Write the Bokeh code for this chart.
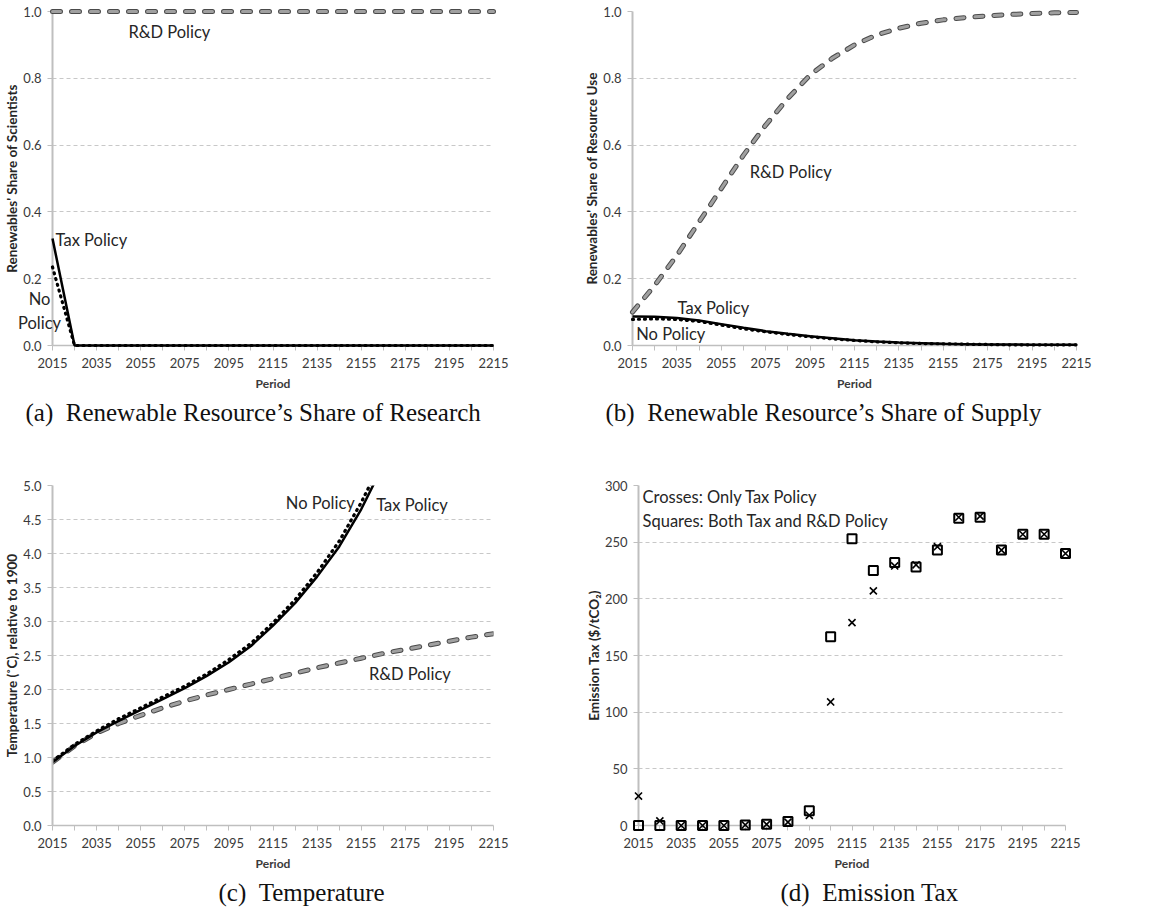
from bokeh.plotting import figure
from bokeh.layouts import column, row
from bokeh.models import Range1d, FixedTicker, Label, Title, NumeralTickFormatter
from bokeh.core.properties import value
from bokeh.embed import file_html
from bokeh.resources import INLINE

NAN = float("nan")

# ---------------- data ----------------
years = list(range(2015, 2216, 10))
label_years = list(range(2015, 2216, 20))
minor_years = list(range(2025, 2216, 20))

# (a) Renewables' share of scientists
a_rd = [1.0] * 21
a_tax = [0.32] + [0.0] * 20
a_nopol = [0.235] + [0.0] * 20

# (b) Renewables' share of resource use
b_rd = [0.10, 0.18, 0.27, 0.37, 0.47, 0.57, 0.66, 0.74, 0.81, 0.86, 0.90,
        0.93, 0.95, 0.965, 0.975, 0.982, 0.987, 0.991, 0.994, 0.996, 0.997]
b_tax = [0.087, 0.086, 0.082, 0.075, 0.064, 0.053, 0.043, 0.035, 0.028, 0.022, 0.016,
         0.012, 0.009, 0.007, 0.005, 0.004, 0.003, 0.003, 0.002, 0.002, 0.002]
b_nopol = [0.078, 0.080, 0.078, 0.072, 0.061, 0.050, 0.041, 0.033, 0.026, 0.020, 0.015,
           0.011, 0.008, 0.006, 0.005, 0.004, 0.003, 0.002, 0.002, 0.002, 0.002]

# (c) Temperature
c_tax = [0.93, 1.17, 1.37, 1.54, 1.70, 1.86, 2.02, 2.20, 2.40, 2.64, 2.94,
         3.27, 3.66, 4.10, 4.65, 5.30, NAN, NAN, NAN, NAN, NAN]
c_nopol = [0.95, 1.19, 1.39, 1.57, 1.73, 1.89, 2.05, 2.23, 2.44, 2.68, 2.98,
           3.32, 3.72, 4.18, 4.75, 5.40, NAN, NAN, NAN, NAN, NAN]
c_rd = [0.93, 1.17, 1.36, 1.50, 1.62, 1.73, 1.83, 1.92, 2.00, 2.08, 2.16,
        2.24, 2.32, 2.39, 2.46, 2.53, 2.59, 2.65, 2.71, 2.77, 2.82]

# (d) Emission tax
d_cross = [26, 4, 0, 0, 0, 0.5, 1, 3, 9, 109, 179,
           207, 229, 230, 246, 272, 273, 243, 257, 257, 240]
d_square = [0, 0, 0, 0, 0, 0.5, 1, 3.5, 13, 166.5, 253,
            225, 232, 228, 243, 271, 272, 243, 257, 257, 240]

FONT = "Lato"
TXT = "#262626"
AX = "#bfbfbf"
NB = "\u00a0"


def make_fig(width, height, left, right, top, bottom, y_end, y_ticks, y_fmt,
             ylabel, caption, cap_offset):
    p = figure(width=width, height=height,
               min_border_left=left, min_border_right=right,
               min_border_top=top, min_border_bottom=bottom,
               x_range=Range1d(2015, 2215), y_range=Range1d(0, y_end),
               output_backend="svg", toolbar_location=None)
    p.outline_line_color = None
    p.background_fill_color = "white"
    p.border_fill_color = "white"
    p.xgrid.visible = False
    p.ygrid.ticker = FixedTicker(ticks=y_ticks)
    p.ygrid.grid_line_color = "#c8c8c8"
    p.ygrid.grid_line_dash = "4 3"
    p.ygrid.grid_line_width = 1

    xa = p.xaxis[0]
    xa.ticker = FixedTicker(ticks=label_years, minor_ticks=minor_years)
    xa.axis_line_color = AX
    xa.axis_line_width = 1.5
    xa.major_tick_line_color = AX
    xa.minor_tick_line_color = AX
    xa.major_tick_out = 5
    xa.major_tick_in = 0
    xa.minor_tick_out = 5
    xa.minor_tick_in = 0
    xa.major_label_text_font = FONT
    xa.major_label_text_font_size = "13px"
    xa.major_label_text_color = "#3a3a3a"
    xa.major_label_standoff = 7
    xa.axis_label = "Period"
    xa.axis_label_text_font = FONT
    xa.axis_label_text_font_size = "12px"
    xa.axis_label_text_font_style = "bold"
    xa.axis_label_text_color = "#3a3a3a"
    xa.axis_label_standoff = 5

    ya = p.yaxis[0]
    ya.ticker = FixedTicker(ticks=y_ticks)
    ya.formatter = NumeralTickFormatter(format=y_fmt)
    ya.axis_line_color = AX
    ya.axis_line_width = 2
    ya.major_tick_line_color = AX
    ya.major_tick_out = 5
    ya.major_tick_in = 0
    ya.minor_tick_out = 0
    ya.minor_tick_in = 0
    ya.major_label_text_font = FONT
    ya.major_label_text_font_size = "13px"
    ya.major_label_text_color = "#3a3a3a"
    ya.major_label_standoff = 6
    ya.axis_label = ylabel
    ya.axis_label_text_font = FONT
    ya.axis_label_text_font_size = "13.5px"
    ya.axis_label_text_font_style = "bold"
    ya.axis_label_text_color = "#262626"
    ya.axis_label_standoff = 0

    p.add_layout(Title(text=caption, align="left", offset=cap_offset,
                       text_font="Liberation Serif", text_font_size="25px",
                       text_font_style="normal", text_color="#111111",
                       standoff=6), "below")
    return p


def rd_line(p, xs, ys, level="glyph"):
    p.line(xs, ys, line_color="#4a4a4a", line_width=5, line_dash="8 11",
           line_cap="round", level=level)
    p.line(xs, ys, line_color="#a0a0a0", line_width=3, line_dash="8 11",
           line_cap="round", level=level)


def dotted(p, xs, ys, level="glyph"):
    p.line(xs, ys, line_color="black", line_width=3.2, line_dash="1 5",
           line_cap="round", level=level)


def solid(p, xs, ys, level="glyph"):
    p.line(xs, ys, line_color="black", line_width=2.5, level=level)


def note(p, x, y, text, align="left"):
    p.add_layout(Label(x=x, y=y, text=text,
                       text_font=FONT, text_font_size="16.5px",
                       text_color=TXT, text_baseline="middle", text_align=align))


def free_note(p, xs, ys, texts):
    # text glyph on the overlay level, so it may extend past the frame edge
    p.text(x=xs, y=ys, text=texts, text_font=value(FONT), text_font_size="16.5px",
           text_color=TXT, text_baseline="middle", text_align="center",
           level="overlay")


# ---------------- (a) ----------------
pa = make_fig(574, 460, 52, 81, 11, 115, 1.0, [0, 0.2, 0.4, 0.6, 0.8, 1.0], "0.0",
              "Renewables' Share of Scientists",
              "(a)" + NB + NB + "Renewable Resource\u2019s Share of Research", -27)
rd_line(pa, years, a_rd, "overlay")
dotted(pa, years, a_nopol, "overlay")
solid(pa, years, a_tax, "overlay")
note(pa, 2068, 0.94, "R&D Policy", "center")
note(pa, 2016.4, 0.317, "Tax Policy")
free_note(pa, [2009.1, 2009.1], [0.138, 0.066], ["No", "Policy"])

# ---------------- (b) ----------------
pb = make_fig(575, 460, 58, 73, 11, 115, 1.0, [0, 0.2, 0.4, 0.6, 0.8, 1.0], "0.0",
              "Renewables' Share of Resource Use",
              "(b)" + NB + NB + "Renewable Resource\u2019s Share of Supply", -27)
rd_line(pb, years, b_rd, "overlay")
dotted(pb, years, b_nopol, "overlay")
solid(pb, years, b_tax, "overlay")
note(pb, 2067.8, 0.518, "R&D Policy")
note(pb, 2035.3, 0.111, "Tax Policy")
note(pb, 2016.7, 0.033, "No Policy")

# ---------------- (c) ----------------
pc = make_fig(574, 462, 52, 81, 25, 97, 5.0,
              [0, 0.5, 1.0, 1.5, 2.0, 2.5, 3.0, 3.5, 4.0, 4.5, 5.0], "0.0",
              "Temperature (\u02daC), relative to 1900",
              "(c)" + NB + NB + "Temperature", 166)
rd_line(pc, years, c_rd)
dotted(pc, years, c_nopol)
solid(pc, years, c_tax)
note(pc, 2120.8, 4.74, "No Policy")
note(pc, 2161.8, 4.71, "Tax Policy")
note(pc, 2158.5, 2.23, "R&D Policy")

# ---------------- (d) ----------------
pd_ = make_fig(575, 462, 64, 84, 25, 94, 300,
               [0, 50, 100, 150, 200, 250, 300], "0",
               "Emission Tax ($/tCO\u2082)",
               "(d)" + NB + NB + "Emission Tax", 142)
pd_.scatter(years, d_cross, marker="x", size=10, line_color="black",
            line_width=1.6, level="overlay")
pd_.scatter(years, d_square, marker="square", size=9, fill_color=None,
            line_color="black", line_width=2, level="overlay")
note(pd_, 2016.9, 290, "Crosses: Only Tax Policy")
note(pd_, 2016.9, 269, "Squares: Both Tax and R&D Policy")

layout = column(row(pa, pb), row(pc, pd_))
open("out.html", "w").write(file_html(layout, INLINE))
